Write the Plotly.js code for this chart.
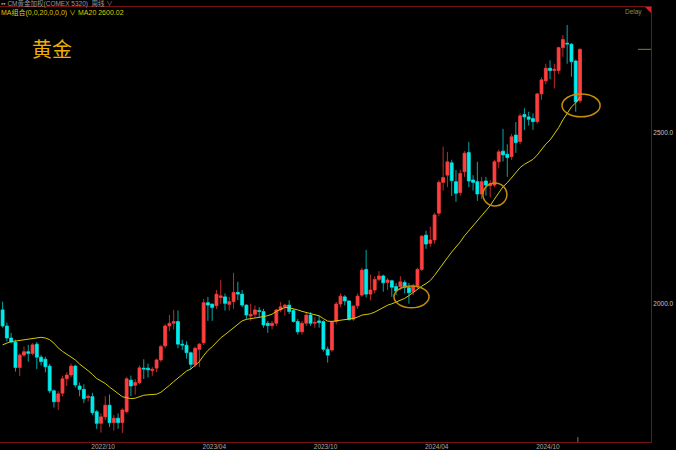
<!DOCTYPE html>
<html><head><meta charset="utf-8">
<script src="https://cdn.plot.ly/plotly-3.0.1.min.js"></script>
<style>html,body{margin:0;padding:0;background:#000;overflow:hidden}#chart{width:676px;height:450px}</style>
</head><body><div id="chart"></div>
<script>
// Weekly candles, CM黄金加权 (COMEX), week of 2022-04-18 .. 2024-11-18
const opens = [1982,1935,1900,1888,1814,1850,1860,1855,1882,1844,
1838,1818,1746,1714,1739,1781,1792,1818,1760,1750,
1726,1729,1685,1651,1670,1704,1653,1666,1653,1685,
1777,1762,1770,1812,1812,1805,1812,1836,1877,1935,
1943,1948,1882,1879,1857,1823,1867,1886,2003,1999,
1994,2018,2020,1998,2006,2033,2028,1996,1964,1969,
1980,1977,1943,1936,1943,1982,1991,1996,1980,1948,
1918,1943,1967,1943,1950,1948,1867,1865,1948,1999,
2020,2008,1955,1994,2025,2100,2028,2040,2071,2081,
2062,2067,2050,2050,2062,2047,2035,2052,2100,2200,
2176,2186,2264,2354,2375,2411,2356,2324,2385,2441,
2361,2356,2320,2358,2344,2346,2414,2445,2436,2429,
2492,2473,2552,2545,2540,2531,2612,2650,2687,2680,
2680,2747,2760,2757,2708,2592];
const highs = [2006,1945,1915,1895,1855,1875,1880,1885,1888,1850,
1845,1825,1750,1745,1790,1800,1825,1822,1770,1765,
1735,1740,1690,1680,1730,1735,1675,1680,1695,1786,
1790,1780,1820,1838,1825,1815,1840,1880,1940,1967,
1982,1980,1895,1890,1860,1875,1885,2014,2020,2000,
2040,2069,2030,2020,2090,2064,2040,1998,2000,1995,
1990,1985,1950,1950,1985,2005,2000,2010,1985,1955,
1950,1975,1975,1960,1965,1952,1875,1950,2005,2030,
2025,2010,1995,2030,2105,2157,2085,2080,2095,2085,
2075,2070,2060,2080,2068,2060,2058,2105,2200,2213,
2225,2265,2360,2458,2443,2420,2390,2390,2445,2472,
2375,2414,2370,2370,2360,2420,2450,2510,2465,2495,
2530,2555,2570,2560,2555,2615,2660,2700,2710,2700,
2750,2784,2813,2760,2712,2745];
const lows = [1930,1890,1885,1802,1789,1845,1831,1850,1809,1820,
1800,1739,1697,1690,1730,1760,1785,1755,1730,1710,
1715,1675,1635,1624,1660,1640,1630,1635,1623,1680,
1730,1735,1765,1780,1785,1790,1800,1830,1870,1920,
1925,1870,1865,1840,1808,1815,1815,1880,1950,1950,
1985,2000,1980,1980,1985,2010,1990,1955,1950,1960,
1960,1930,1915,1925,1935,1975,1965,1970,1945,1910,
1910,1935,1935,1930,1930,1860,1828,1860,1940,1990,
1995,1950,1950,1985,2020,2018,2010,2030,2065,2035,
2040,2020,2025,2040,2030,2000,2025,2045,2095,2160,
2166,2175,2255,2330,2340,2314,2297,2315,2370,2340,
2330,2300,2305,2315,2310,2340,2395,2415,2370,2420,
2440,2465,2507,2520,2507,2525,2595,2640,2655,2628,
2670,2720,2700,2662,2560,2585];
const closes = [1935,1900,1888,1814,1850,1860,1855,1880,1844,1831,
1816,1746,1714,1737,1781,1792,1818,1763,1750,1723,
1730,1682,1651,1670,1704,1653,1666,1653,1690,1781,
1760,1770,1813,1809,1807,1809,1836,1875,1935,1943,
1948,1882,1879,1857,1823,1870,1882,2003,1996,1989,
2028,2023,2001,2006,2033,2028,1996,1967,1969,1982,
1977,1938,1936,1943,1982,1991,1996,1977,1948,1918,
1943,1967,1943,1946,1945,1867,1850,1948,1999,2022,
2008,1954,1993,2022,2098,2028,2040,2071,2081,2061,
2069,2048,2037,2064,2047,2032,2052,2100,2197,2174,
2186,2259,2354,2368,2414,2359,2322,2380,2439,2358,
2354,2320,2356,2346,2350,2414,2443,2434,2426,2487,
2470,2548,2545,2538,2531,2612,2653,2687,2680,2684,
2747,2771,2757,2706,2589,2742];
// MA20 for the first 19 weeks (earlier closes are off-chart)
const maHead = [1880,1884,1890,1891,1893,1894,1896,1898,1900,1902,
1900,1895,1885,1871,1861,1853,1845,1836,1824];
const tickIdx = [23.5,49.5,75.5,101.5,127.5];
const tickText = ['2022/10','2023/04','2023/10','2024/04','2024/10'];
const yTicks = [2000,2500];
const yTickText = ['2000.0','2500.0'];
// highlighted areas: [x0 week idx, x1 week idx, low price, high price]
const ellipses = [[91.5,99.7,1988,2052],[112.3,117.9,2285,2352],[130.8,139.7,2545,2612]];

const n = closes.length;
const idx = closes.map((_, i) => i);
const ma = closes.map((_, i) => i < 19 ? maHead[i] :
  closes.slice(i - 19, i + 1).reduce((a, b) => a + b, 0) / 20);
const up = closes.map((c, i) => c >= opens[i]);
const RED = '#ff3f3f', CYAN = '#00ecec', RED_W = '#c02a2a', CYAN_W = '#00a8a8';

function wicks(flag) {
  const xs = [], ys = [];
  for (let i = 0; i < n; i++) {
    if (up[i] !== flag) continue;
    const top = Math.max(opens[i], closes[i]), bot = Math.min(opens[i], closes[i]);
    xs.push(i, i, null, i, i, null);
    ys.push(highs[i], top, null, bot, lows[i], null);
  }
  return {x: xs, y: ys, type: 'scatter', mode: 'lines', hoverinfo: 'skip',
    line: {color: flag ? RED_W : CYAN_W, width: 1}};
}

const bodyColors = up.map(u => u ? RED : CYAN);
const bodies = {
  type: 'bar', x: idx,
  base: idx.map(i => Math.min(opens[i], closes[i])),
  y: idx.map(i => Math.abs(closes[i] - opens[i])),
  width: 0.68,
  marker: {color: bodyColors, line: {color: bodyColors, width: 0.8}},
  hoverinfo: 'skip'
};
const maTrace = {type: 'scatter', mode: 'lines', x: idx, y: ma,
  line: {color: '#d6cc00', width: 1}, hoverinfo: 'skip'};

const ph = 435; // plot height px
const py = p => (442 - p) / ph;
const shapes = ellipses.map(e => ({type: 'circle', xref: 'x', yref: 'y',
  x0: e[0], x1: e[1], y0: e[2], y1: e[3], line: {color: '#c48c0c', width: 1.5}}));
shapes.push({type: 'line', xref: 'paper', yref: 'y', x0: 0.98, x1: 1,
  y0: closes[n - 1], y1: closes[n - 1], line: {color: '#84842a', width: 1}});
shapes.push({type: 'path', xref: 'paper', yref: 'paper',
  path: 'M 0.9908 1 L 1 1 L 1 ' + py(13) + ' Z', fillcolor: '#e02020', line: {width: 0}});
shapes.push({type: 'line', xref: 'x', yref: 'paper', x0: n - 1.5, x1: n - 1.5,
  y0: 0, y1: py(437), line: {color: '#777777', width: 1}});

const F = 'Liberation Sans, Arial, Noto Sans CJK SC, sans-serif';
const annotations = [
  {xref: 'paper', yref: 'paper', x: 0, y: py(3), xanchor: 'left', yanchor: 'middle',
   text: '▪▪ CM黄金加权(COMEX 5320)  周线 ∨', showarrow: false, borderpad: 0,
   font: {size: 6.5, color: '#9a9a9a', family: F}},
  {xref: 'paper', yref: 'paper', x: 0, y: py(12.5), xanchor: 'left', yanchor: 'middle',
   text: 'MA组合(0,0,20,0,0,0) ∨', showarrow: false, borderpad: 0,
   font: {size: 7, color: '#dccc00', family: F}},
  {xref: 'paper', yref: 'paper', x: 77 / 651, y: py(12.5), xanchor: 'left', yanchor: 'middle',
   text: 'MA20 2600.02', showarrow: false, borderpad: 0,
   font: {size: 7, color: '#dccc00', family: F}},
  {xref: 'paper', yref: 'paper', x: 644 / 651, y: py(12.5), xanchor: 'right', yanchor: 'middle',
   text: 'Delay', showarrow: false, font: {size: 6.5, color: '#8c8c3c', family: F}},
  {xref: 'paper', yref: 'paper', x: 52 / 651, y: py(49), xanchor: 'center', yanchor: 'middle',
   text: '黄金', showarrow: false,
   font: {size: 20, color: '#f0b000', family: 'Noto Sans CJK SC, sans-serif'}}
];

const layout = {
  width: 676, height: 450,
  paper_bgcolor: '#000000', plot_bgcolor: '#000000',
  margin: {l: 0, r: 25, t: 7, b: 8},
  showlegend: false, bargap: 0,
  font: {family: F},
  xaxis: {range: [-0.61, 151.6], showgrid: false, zeroline: false,
    showline: true, mirror: true, linecolor: '#761414', linewidth: 1,
    tickvals: tickIdx, ticktext: tickText, ticks: '', ticklabelstandoff: -2,
    tickfont: {size: 6.5, color: '#a8a8a8', family: F}, fixedrange: true},
  yaxis: {range: [1596.6, 2865.5], side: 'right', showgrid: false, zeroline: false,
    showline: true, linecolor: '#761414', linewidth: 1,
    tickvals: yTicks, ticktext: yTickText, ticks: '',
    tickfont: {size: 6.5, color: '#c4c4c4', family: F}, fixedrange: true},
  shapes: shapes, annotations: annotations
};

Plotly.newPlot('chart', [wicks(true), wicks(false), bodies, maTrace], layout,
  {displayModeBar: false, staticPlot: true});
</script>
</body></html>
